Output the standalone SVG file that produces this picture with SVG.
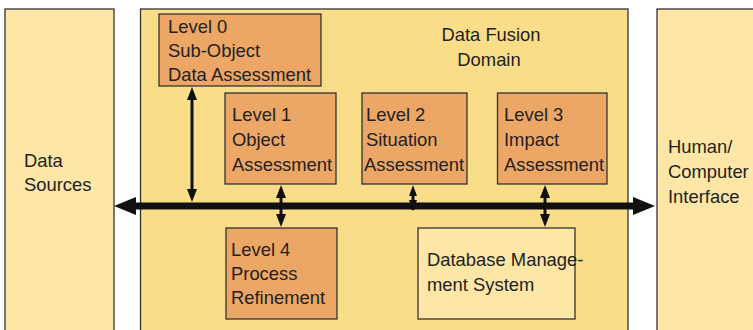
<svg xmlns="http://www.w3.org/2000/svg" width="753" height="330" viewBox="0 0 753 330">
<style>
text{font-family:"Liberation Sans",Arial,sans-serif;font-size:18.4px;fill:#231f20}
.outer{fill:#fde6a6;stroke:#333;stroke-width:1.3}
.domain{fill:#fadd88;stroke:#333;stroke-width:1.3}
.lvl{fill:#eca666;stroke:#333;stroke-width:1.3}
.db{fill:#fde6a6;stroke:#333;stroke-width:1.3}
.v{stroke:#111;stroke-width:3;fill:none}
.ah{fill:#111}
</style>
<rect width="753" height="330" fill="#fff"/>
<g id="data-sources">
<rect class="outer" x="5" y="9" width="109" height="330"/>
<text x="24" y="167">Data</text>
<text x="24" y="191">Sources</text>
</g>
<g id="data-fusion-domain">
<rect class="domain" x="140.5" y="9" width="487.5" height="330"/>
<text x="491" y="41" text-anchor="middle">Data Fusion</text>
<text x="489" y="66" text-anchor="middle">Domain</text>
</g>
<g id="hci">
<rect class="outer" x="657" y="9" width="110" height="330"/>
<text x="668" y="153">Human/</text>
<text x="668" y="178">Computer</text>
<text x="668" y="203">Interface</text>
</g>
<g id="level0">
<rect class="lvl" x="159" y="14" width="162" height="72"/>
<text x="168" y="33">Level 0</text>
<text x="168" y="57">Sub-Object</text>
<text x="168" y="81">Data Assessment</text>
</g>
<g id="level1">
<rect class="lvl" x="225" y="93" width="111" height="91"/>
<text x="232" y="121">Level 1</text>
<text x="232" y="146">Object</text>
<text x="232" y="171">Assessment</text>
</g>
<g id="level2">
<rect class="lvl" x="362" y="93" width="105" height="91"/>
<text x="366" y="121">Level 2</text>
<text x="366" y="146">Situation</text>
<text x="364" y="171">Assessment</text>
</g>
<g id="level3">
<rect class="lvl" x="497.5" y="93" width="109.5" height="91"/>
<text x="504" y="121">Level 3</text>
<text x="504" y="146">Impact</text>
<text x="504" y="171">Assessment</text>
</g>
<g id="level4">
<rect class="lvl" x="226" y="228" width="111" height="91"/>
<text x="231" y="256">Level 4</text>
<text x="231" y="280">Process</text>
<text x="231" y="304">Refinement</text>
</g>
<g id="dbms">
<rect class="db" x="418" y="228" width="157" height="91"/>
<text x="427" y="266">Database Manage-</text>
<text x="427" y="291">ment System</text>
</g>
<g id="connectors">
<line x1="132" y1="206" x2="637" y2="206" stroke="#111" stroke-width="7"/>
<polygon class="ah" points="114,206 136,197 136,215"/>
<polygon class="ah" points="655,206 633,197 633,215"/>
<line class="v" x1="192" y1="96" x2="192" y2="193"/>
<polygon class="ah" points="192,87 187,100 197,100"/>
<polygon class="ah" points="192,202 187,189 197,189"/>
<line class="v" x1="281" y1="194" x2="281" y2="218"/>
<polygon class="ah" points="281,185 276,198 286,198"/>
<polygon class="ah" points="281,227 276,214 286,214"/>
<line class="v" x1="413" y1="192" x2="413" y2="210"/>
<polygon class="ah" points="413,185 409,196 417,196"/>
<polygon class="ah" points="413,211 409,200 417,200"/>
<line class="v" x1="545" y1="194" x2="545" y2="218"/>
<polygon class="ah" points="545,185 540,198 550,198"/>
<polygon class="ah" points="545,227 540,214 550,214"/>
</g>
</svg>
